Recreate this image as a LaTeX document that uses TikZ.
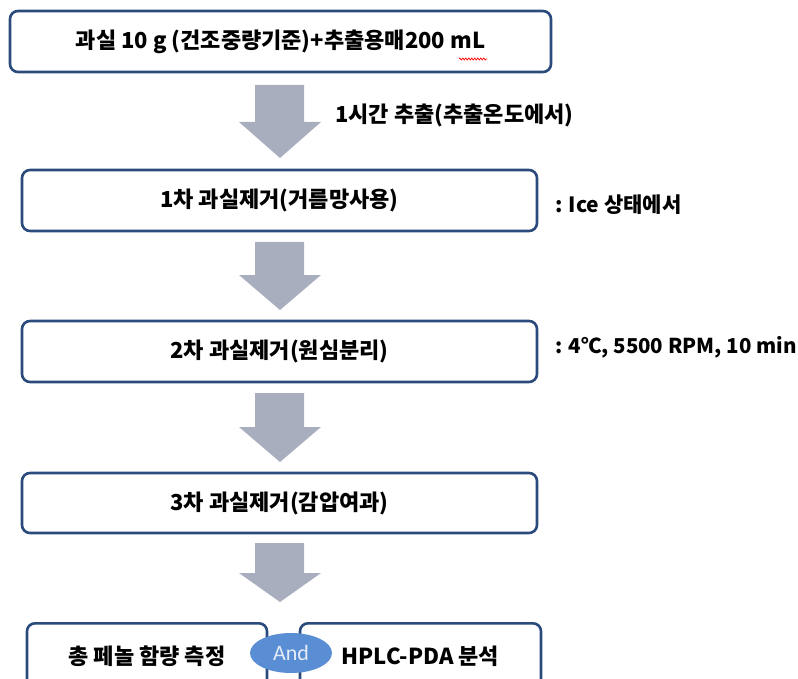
\documentclass[tikz,border=0pt]{standalone}
\usepackage{fontspec}
\setmainfont{Noto Sans CJK KR}
\newfontfamily\andfont{Carlito}
\usetikzlibrary{shapes.geometric,decorations.pathmorphing}
\definecolor{boxline}{HTML}{2A4B7C}
\definecolor{arrowgray}{HTML}{A8AEBE}
\definecolor{andblue}{HTML}{5A8ED4}
\definecolor{andtext}{HTML}{E4ECF7}
\newcommand\blockarrow[4]{%
  \fill[arrowgray] (255,#1) -- (304,#1) -- (304,#2) -- (321,#2) -- (280,#3) coordinate (#4) -- (239,#2) -- (255,#2) -- cycle;}
\begin{document}
\begin{tikzpicture}[x=1pt,y=-1pt,
  txt/.style={font=\bfseries\fontsize{22}{26}\selectfont},
  stepbox/.style={txt, draw=boxline, line width=2.6pt, rounded corners=8pt, fill=white, inner sep=0pt},
  lbl/.style={txt, anchor=west, inner sep=0pt}]
\useasboundingbox (0,0) rectangle (798,679);
\clip (0,0) rectangle (798,679);
\node[stepbox, minimum width=541pt, minimum height=61pt] (b1) at (280.5,41.5) {과실 10 g (건조중량기준)+추출용매200 mL};
\node[stepbox, minimum width=515pt, minimum height=61pt] (b2) at (279.5,200.5) {1차 과실제거(거름망사용)};
\node[stepbox, minimum width=515pt, minimum height=61pt] (b3) at (279.5,351.5) {2차 과실제거(원심분리)};
\node[stepbox, minimum width=515pt, minimum height=60pt] (b4) at (279.5,503) {3차 과실제거(감압여과)};
\node[stepbox, minimum width=240pt, minimum height=66pt, anchor=north] (b5) at (147,622) {총 페놀 함량 측정};
\node[stepbox, minimum width=241pt, minimum height=66pt, anchor=north] (b6) at (420.5,622) {HPLC-PDA 분석};
\node[ellipse, fill=andblue, minimum width=82pt, minimum height=40pt, inner sep=0pt, text=andtext, font=\andfont\fontsize{22}{24}\selectfont] (and) at (291,653) {And};
\blockarrow{85}{122}{158}{t1}
\blockarrow{242}{275}{310}{t2}
\blockarrow{393}{427}{462}{t3}
\blockarrow{543}{573}{602}{t4}
\node[lbl] (l1) at (335,115) {1시간 추출(추출온도에서)};
\node[lbl, font=\bfseries\fontsize{21}{24}\selectfont] (l2) at (555,205) {: Ice 상태에서};
\node[lbl, font=\bfseries\fontsize{20.5}{24}\selectfont] (l3) at (555,347) {: 4℃, 5500 RPM, 10 min};
\draw[red, line width=0.7pt, decorate, decoration={zigzag, segment length=3pt, amplitude=1pt}] (459,59) -- (487,59);
\end{tikzpicture}
\end{document}
